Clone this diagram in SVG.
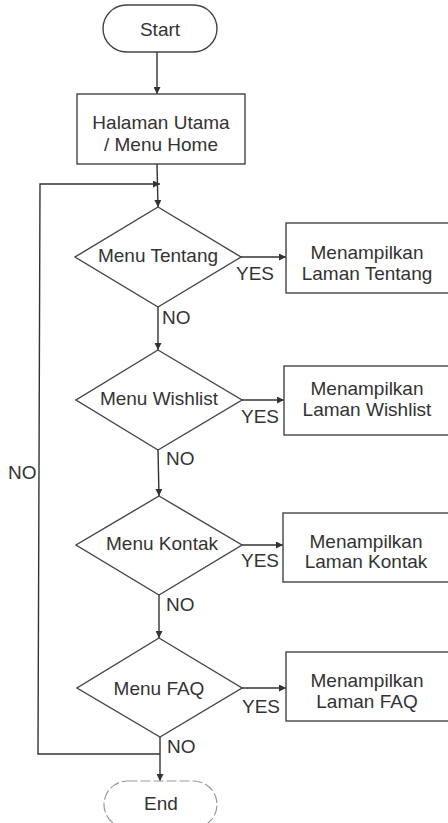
<svg xmlns="http://www.w3.org/2000/svg" width="448" height="823" viewBox="0 0 448 823">
  <defs>
    <marker id="arrow" viewBox="0 0 10 10" refX="10" refY="5" markerWidth="7" markerHeight="7" markerUnits="userSpaceOnUse" orient="auto">
      <path d="M0,0 L10,5 L0,10 Z" fill="#333"/>
    </marker>
    <style>
      .shape { fill: #fff; stroke: #444; stroke-width: 1.4; }
      .end { fill: #fff; stroke: #999; stroke-width: 1.2; stroke-dasharray: 10 3; }
      .line { fill: none; stroke: #333; stroke-width: 1.4; }
      .label { font-family: "Liberation Sans", Arial, sans-serif; font-size: 19px; fill: #333; }
      .mid { text-anchor: middle; }
    </style>
  </defs>
  <rect width="448" height="823" fill="#fff"/>

  <!-- connectors -->
  <g id="connectors">
    <line class="line" x1="157" y1="52" x2="157" y2="94" marker-end="url(#arrow)"/>
    <line class="line" x1="157" y1="164" x2="158" y2="207" marker-end="url(#arrow)"/>
    <polyline class="line" points="160,754 38,754 40,184 160,184" marker-end="url(#arrow)"/>
    <line class="line" x1="241" y1="257" x2="286" y2="257" marker-end="url(#arrow)"/>
    <line class="line" x1="158" y1="307" x2="158" y2="350" marker-end="url(#arrow)"/>
    <line class="line" x1="242" y1="400" x2="284" y2="400" marker-end="url(#arrow)"/>
    <line class="line" x1="158" y1="450" x2="159" y2="496" marker-end="url(#arrow)"/>
    <line class="line" x1="242" y1="545" x2="283" y2="545" marker-end="url(#arrow)"/>
    <line class="line" x1="159" y1="595" x2="159" y2="638" marker-end="url(#arrow)"/>
    <line class="line" x1="242" y1="688" x2="286" y2="688" marker-end="url(#arrow)"/>
    <line class="line" x1="160" y1="737" x2="160" y2="781" marker-end="url(#arrow)"/>
    <text class="label" x="236" y="280">YES</text>
    <text class="label" x="241" y="423">YES</text>
    <text class="label" x="241" y="567">YES</text>
    <text class="label" x="242" y="713">YES</text>
    <text class="label" x="162" y="324">NO</text>
    <text class="label" x="166" y="465">NO</text>
    <text class="label" x="166" y="611">NO</text>
    <text class="label" x="167" y="753">NO</text>
    <text class="label" x="8" y="479">NO</text>
  </g>

  <g id="start">
    <rect class="shape" x="103" y="5" width="114" height="47" rx="23.5"/>
    <text class="label mid" x="160" y="36">Start</text>
  </g>

  <g id="halaman-utama">
    <rect class="shape" x="77" y="94" width="168" height="70"/>
    <text class="label mid" x="161" y="129">Halaman Utama</text>
    <text class="label mid" x="161" y="151">/ Menu Home</text>
  </g>

  <g id="menu-tentang">
    <polygon class="shape" points="158,207 241,257 158,307 75,257"/>
    <text class="label mid" x="158" y="262">Menu Tentang</text>
  </g>
  <g id="laman-tentang">
    <rect class="shape" x="286" y="223" width="164" height="70"/>
    <text class="label mid" x="367" y="259">Menampilkan</text>
    <text class="label mid" x="367" y="280">Laman Tentang</text>
  </g>

  <g id="menu-wishlist">
    <polygon class="shape" points="158,350 242,400 158,450 76,400"/>
    <text class="label mid" x="159" y="405">Menu Wishlist</text>
  </g>
  <g id="laman-wishlist">
    <rect class="shape" x="284" y="366" width="166" height="69"/>
    <text class="label mid" x="367" y="395">Menampilkan</text>
    <text class="label mid" x="367" y="416">Laman Wishlist</text>
  </g>

  <g id="menu-kontak">
    <polygon class="shape" points="159,496 242,545 159,595 76,545"/>
    <text class="label mid" x="162" y="550">Menu Kontak</text>
  </g>
  <g id="laman-kontak">
    <rect class="shape" x="283" y="513" width="167" height="69"/>
    <text class="label mid" x="366" y="548">Menampilkan</text>
    <text class="label mid" x="366" y="568">Laman Kontak</text>
  </g>

  <g id="menu-faq">
    <polygon class="shape" points="159,638 242,688 160,737 77,688"/>
    <text class="label mid" x="159" y="695">Menu FAQ</text>
  </g>
  <g id="laman-faq">
    <rect class="shape" x="286" y="652" width="164" height="69"/>
    <text class="label mid" x="367" y="687">Menampilkan</text>
    <text class="label mid" x="367" y="708">Laman FAQ</text>
  </g>

  <g id="end">
    <rect class="end" x="104" y="781" width="113" height="47" rx="23.5"/>
    <text class="label mid" x="161" y="810">End</text>
  </g>
</svg>
